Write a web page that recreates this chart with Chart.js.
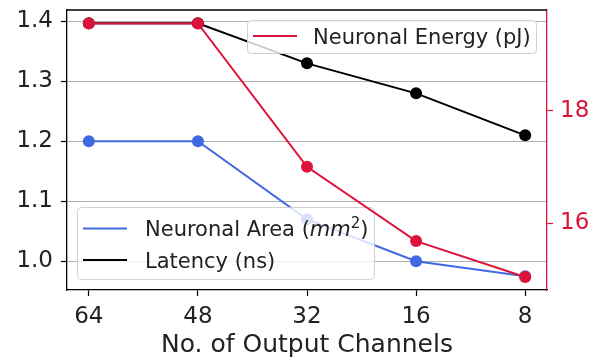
<!DOCTYPE html>
<html><head><meta charset="utf-8">
<script src="https://cdn.jsdelivr.net/npm/chart.js@4"></script>
<style>html,body{margin:0;padding:0;background:#fff}#wrap{width:599px;height:358px;position:relative}</style>
</head><body><div id="wrap"><canvas id="c" width="599" height="358"></canvas></div>
<script>
const channelLabels = ['64', '48', '32', '16', '8'];
const areaValues = [1.2, 1.2, 1.07, 1.0, 0.975];
const latencyValues = [1.397, 1.397, 1.33, 1.28, 1.21];
const energyValues = [19.55, 19.55, 17.0, 15.68, 15.04];
const leftTicks = [1.0, 1.1, 1.2, 1.3, 1.4];
const rightTicks = [16, 18];

const BLUE = '#4169E1', RED = '#DC143C', BLACK = '#000000';
const FONT = 'DejaVu Sans';
const toPts = arr => arr.map((v, i) => ({x: i, y: v}));

function roundRect(ctx, x, y, w, h, r) {
  ctx.beginPath();
  ctx.moveTo(x + r, y);
  ctx.lineTo(x + w - r, y); ctx.quadraticCurveTo(x + w, y, x + w, y + r);
  ctx.lineTo(x + w, y + h - r); ctx.quadraticCurveTo(x + w, y + h, x + w - r, y + h);
  ctx.lineTo(x + r, y + h); ctx.quadraticCurveTo(x, y + h, x, y + h - r);
  ctx.lineTo(x, y + r); ctx.quadraticCurveTo(x, y, x + r, y);
  ctx.closePath();
}
function legendBox(ctx, x, y, w, h) {
  ctx.save();
  roundRect(ctx, x, y, w, h, 4);
  ctx.fillStyle = 'rgba(255,255,255,0.8)';
  ctx.fill();
  ctx.strokeStyle = 'rgba(204,204,204,0.9)';
  ctx.lineWidth = 1;
  ctx.stroke();
  ctx.restore();
}
function legendLine(ctx, x1, x2, y, color) {
  ctx.save();
  ctx.strokeStyle = color; ctx.lineWidth = 2;
  ctx.beginPath(); ctx.moveTo(x1, y); ctx.lineTo(x2, y); ctx.stroke();
  ctx.restore();
}
const LEG_SIZE = 21;
function legendText(ctx, parts, x, y) {
  ctx.save();
  ctx.fillStyle = '#222';
  ctx.textBaseline = 'alphabetic';
  ctx.textAlign = 'left';
  let cx = x;
  for (const p of parts) {
    const size = p.sup ? Math.round(LEG_SIZE * 0.7) : LEG_SIZE;
    ctx.font = (p.italic ? 'italic ' : '') + size + 'px "' + FONT + '"';
    ctx.fillText(p.t, cx, p.sup ? y - 8 : y);
    cx += ctx.measureText(p.t).width;
  }
  ctx.restore();
}

const legendPlugin = {
  id: 'mplLegends',
  afterDatasetDraw(chart, args) {
    if (args.index !== 1) return;
    const ctx = chart.ctx;
    legendBox(ctx, 77.5, 207.5, 297, 72);
    legendLine(ctx, 83, 127, 228.5, BLUE);
    legendLine(ctx, 83, 127, 260, BLACK);
    legendText(ctx, [{t: 'Neuronal Area ('}, {t: 'mm', italic: true}, {t: '2', sup: true}, {t: ')'}], 145, 236);
    legendText(ctx, [{t: 'Latency (ns)'}], 145, 267.5);
  },
  afterDatasetsDraw(chart) {
    const ctx = chart.ctx, a = chart.chartArea;
    ctx.save();
    ctx.strokeStyle = '#000'; ctx.lineWidth = 1.3;
    ctx.beginPath(); ctx.moveTo(a.left, a.top); ctx.lineTo(a.right, a.top); ctx.stroke();
    ctx.restore();
    legendBox(ctx, 247.5, 20.5, 289, 33);
    legendLine(ctx, 253, 297, 36, RED);
    legendText(ctx, [{t: 'Neuronal Energy (pJ)'}], 313, 44);
  }
};

const tickFont = {family: FONT, size: 23};
const noPad = s => { s.paddingTop = 0; s.paddingBottom = 0; s.paddingLeft = 0; s.paddingRight = 0; };

new Chart(document.getElementById('c'), {
  type: 'line',
  data: {
    datasets: [
      {label: 'Neuronal Energy (pJ)', data: toPts(energyValues), yAxisID: 'y2', order: 0,
       borderColor: RED, backgroundColor: RED, borderWidth: 2, pointRadius: 6, pointBorderWidth: 0, pointHoverRadius: 6},
      {label: 'Latency (ns)', data: toPts(latencyValues), yAxisID: 'y', order: 1,
       borderColor: BLACK, backgroundColor: BLACK, borderWidth: 2, pointRadius: 6, pointBorderWidth: 0, pointHoverRadius: 6},
      {label: 'Neuronal Area (mm2)', data: toPts(areaValues), yAxisID: 'y', order: 2,
       borderColor: BLUE, backgroundColor: BLUE, borderWidth: 2, pointRadius: 6, pointBorderWidth: 0, pointHoverRadius: 6}
    ]
  },
  options: {
    responsive: false,
    animation: false,
    devicePixelRatio: 1,
    layout: {padding: {top: 10, left: 0, right: 0, bottom: 0}},
    plugins: {legend: {display: false}, tooltip: {enabled: false}},
    scales: {
      x: {
        type: 'linear', min: -0.2, max: 4.2,
        afterBuildTicks: s => { s.ticks = channelLabels.map((l, i) => ({value: i})); },
        afterFit: s => { s.height = 68; noPad(s); },
        ticks: {callback: (v, i) => channelLabels[i], font: tickFont, color: '#222', padding: 7, maxRotation: 0, autoSkip: false},
        grid: {drawOnChartArea: false, tickLength: 6, tickColor: '#000', tickWidth: 1.2},
        border: {color: '#000', width: 1.3},
        title: {display: true, text: 'No. of Output Channels', font: {family: FONT, size: 25}, color: '#222', padding: {top: 0, bottom: -2}}
      },
      y: {
        position: 'left', min: 0.952, max: 1.419,
        afterBuildTicks: s => { s.ticks = leftTicks.map(v => ({value: v})); },
        afterFit: s => { s.width = 67; noPad(s); },
        ticks: {callback: v => v.toFixed(1), font: tickFont, color: '#222', padding: 8},
        grid: {color: '#b0b0b0', lineWidth: 1, tickLength: 6, tickColor: '#000', tickWidth: 1.2},
        border: {color: '#000', width: 1.3}
      },
      y2: {
        position: 'right', min: 14.81, max: 19.79,
        afterBuildTicks: s => { s.ticks = rightTicks.map(v => ({value: v})); },
        afterFit: s => { s.width = 52; noPad(s); },
        ticks: {callback: v => String(v), font: tickFont, color: RED, padding: 7},
        grid: {drawOnChartArea: false, tickLength: 6, tickColor: RED, tickWidth: 1.2},
        border: {color: RED, width: 1.3}
      }
    }
  },
  plugins: [legendPlugin]
});
</script>
</body></html>
